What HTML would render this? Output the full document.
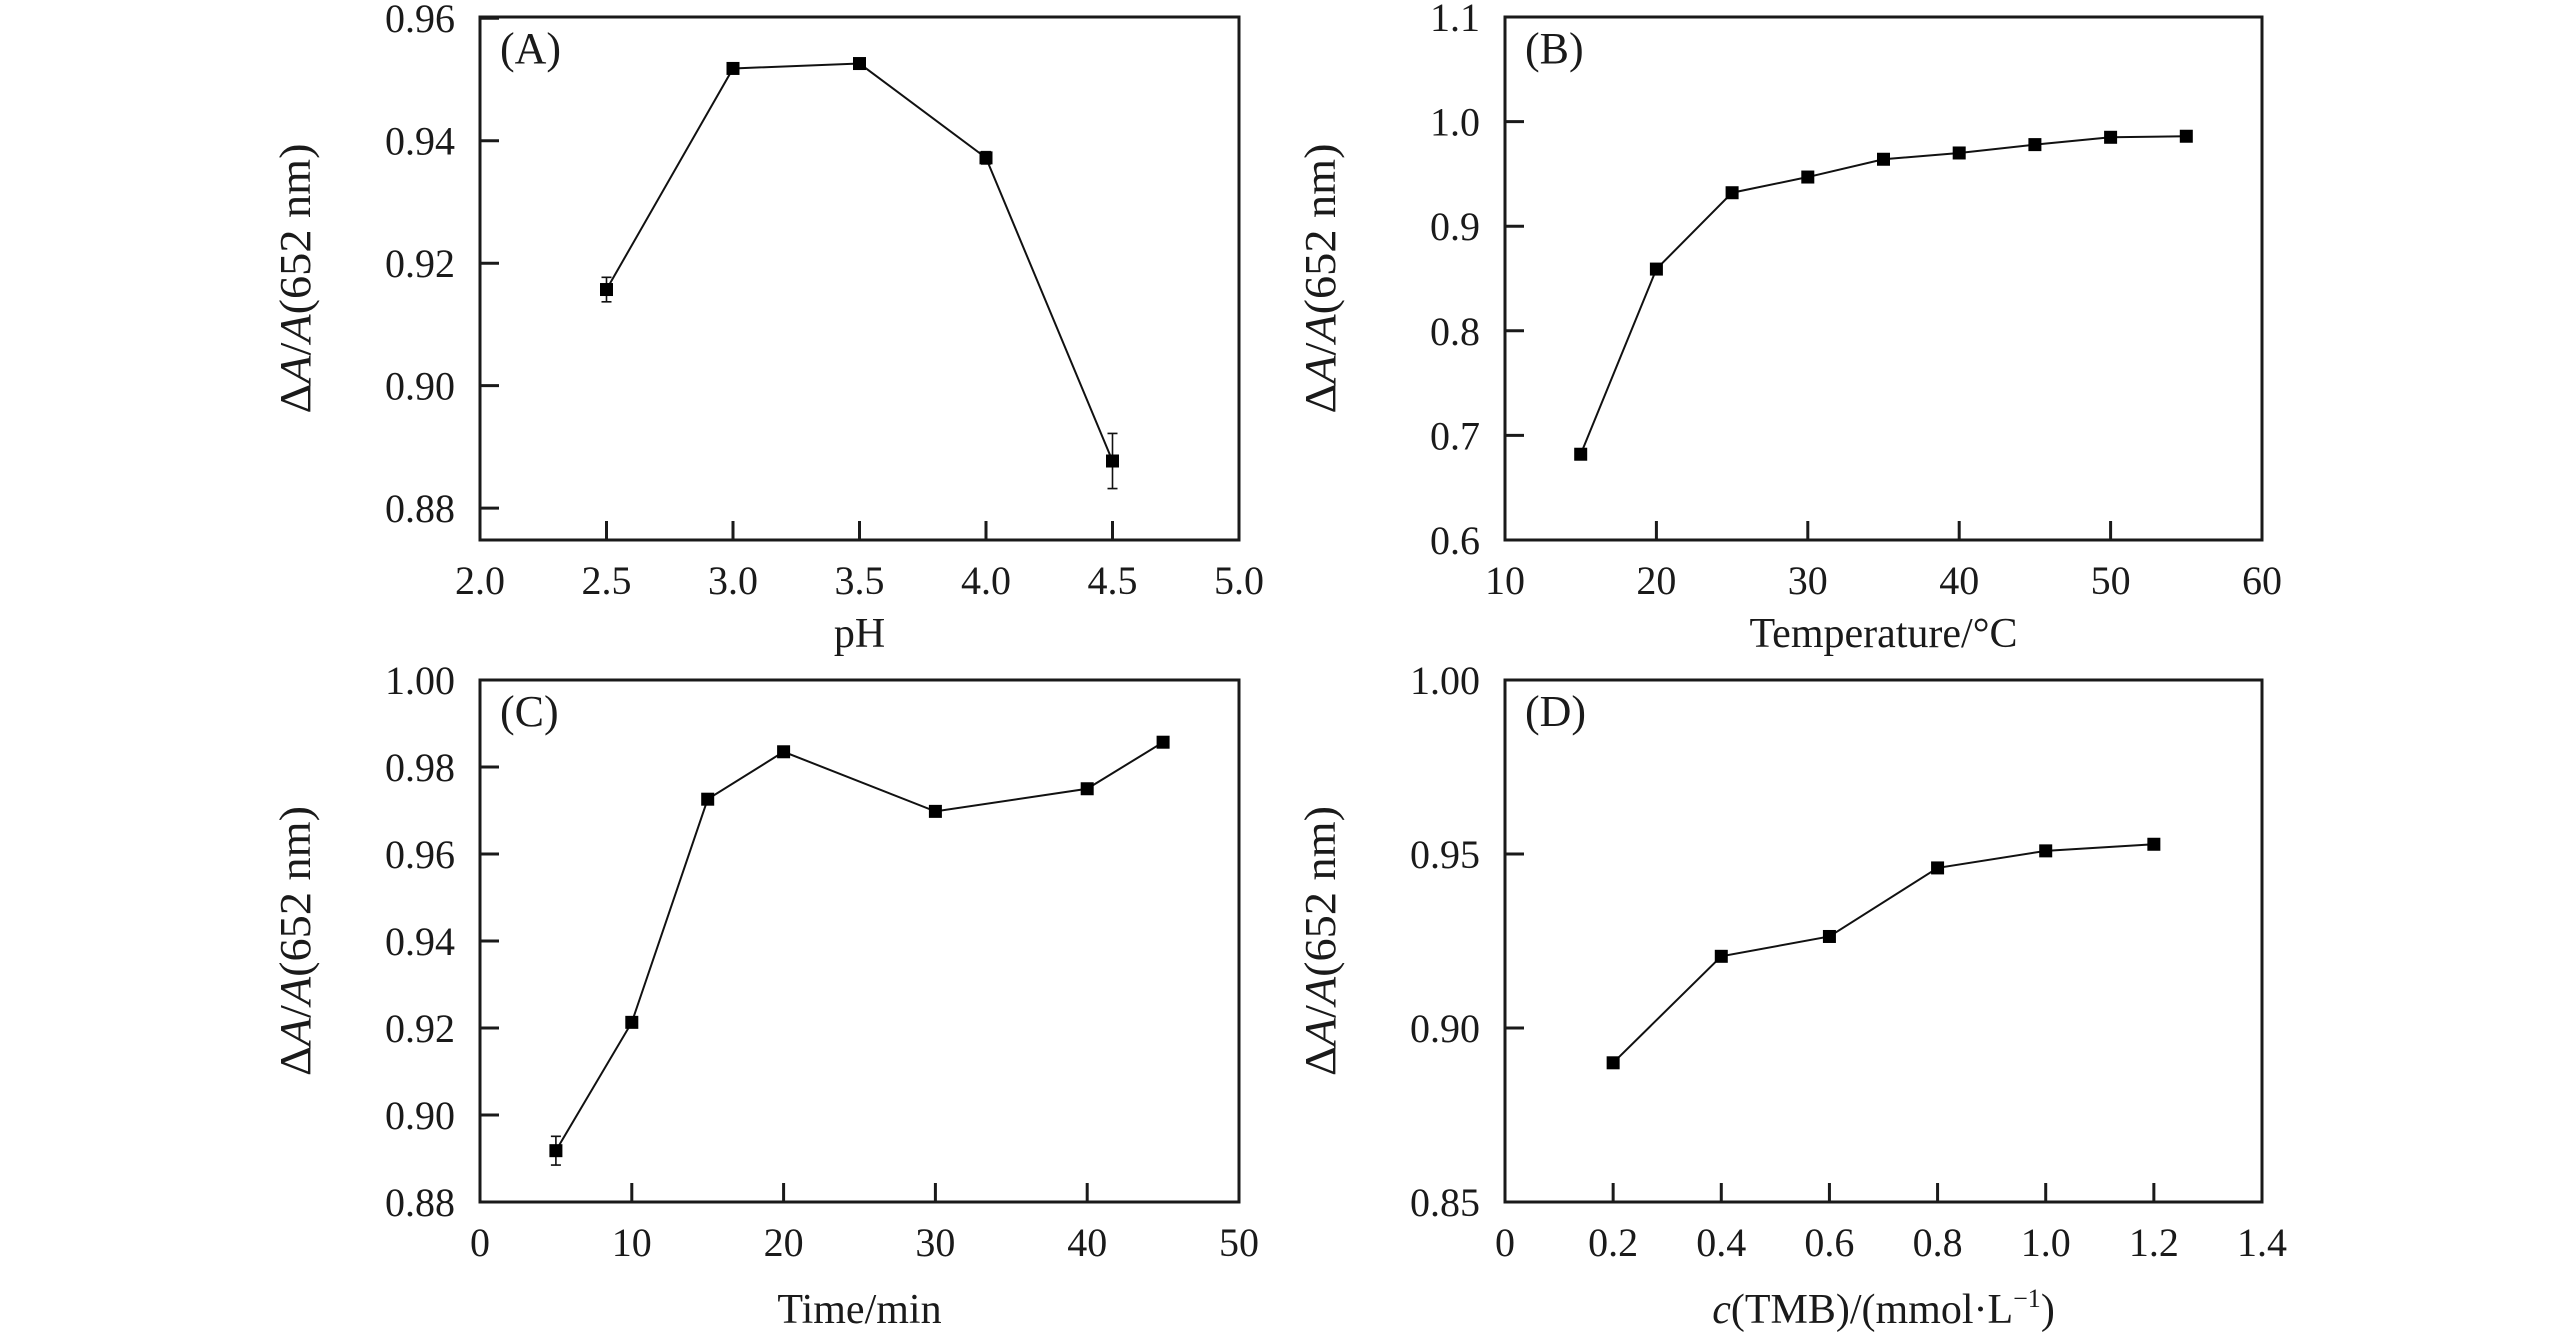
<!DOCTYPE html>
<html><head><meta charset="utf-8"><style>
html,body{margin:0;padding:0;background:#fff;overflow:hidden}
svg{display:block}
text{font-family:"Liberation Serif",serif;fill:#1a1a1a}
</style></head><body>
<svg id="fig" width="2567" height="1339" viewBox="0 0 2567 1339" xmlns="http://www.w3.org/2000/svg"></svg>
<script>
// Panel A
const phX = [2.5, 3.0, 3.5, 4.0, 4.5];
const phY = [0.9157, 0.9518, 0.9526, 0.9372, 0.8877];
const phErr = [0.002, 0.0005, 0.0005, 0.001, 0.0045];
const phXTicks = ["2.0","2.5","3.0","3.5","4.0","4.5","5.0"];
const phYTicks = ["0.88","0.90","0.92","0.94","0.96"];
// Panel B
const tempX = [15, 20, 25, 30, 35, 40, 45, 50, 55];
const tempY = [0.682, 0.859, 0.932, 0.947, 0.964, 0.970, 0.978, 0.985, 0.986];
const tempErr = [0, 0, 0, 0, 0, 0, 0.005, 0, 0];
const tempXTicks = ["10","20","30","40","50","60"];
const tempYTicks = ["0.6","0.7","0.8","0.9","1.0","1.1"];
// Panel C
const timeX = [5, 10, 15, 20, 30, 40, 45];
const timeY = [0.8918, 0.9213, 0.9726, 0.9835, 0.9698, 0.975, 0.9857];
const timeErr = [0.0033, 0.001, 0, 0, 0, 0, 0];
const timeXTicks = ["0","10","20","30","40","50"];
const timeYTicks = ["0.88","0.90","0.92","0.94","0.96","0.98","1.00"];
// Panel D
const tmbX = [0.2, 0.4, 0.6, 0.8, 1.0, 1.2];
const tmbY = [0.890, 0.9206, 0.9263, 0.946, 0.9509, 0.9528];
const tmbErr = [0, 0, 0, 0, 0, 0];
const tmbXTicks = ["0","0.2","0.4","0.6","0.8","1.0","1.2","1.4"];
const tmbYTicks = ["0.85","0.90","0.95","1.00"];

const NS = "http://www.w3.org/2000/svg";
const svg = document.getElementById("fig");
function mk(tag, attrs, parent){
  const e = document.createElementNS(NS, tag);
  for (const k in attrs) e.setAttribute(k, attrs[k]);
  (parent||svg).appendChild(e);
  return e;
}
function txt(parent, s, x, y, size, anchor){
  const t = mk("text", {x:x, y:y, "font-size":size, "text-anchor":anchor}, parent);
  t.textContent = s;
  return t;
}

function panel(p){
  const g = mk("g", {});
  
  
  const xs = v => p.L + (v - p.xmin) / (p.xmax - p.xmin) * (p.R - p.L);
  const ys = v => p.B - (v - p.ymin) / (p.ymax - p.ymin) * (p.B - p.T);
  p.xticks.forEach(s => {
    const v = parseFloat(s), x = xs(v);
    if (v > p.xmin + 1e-9 && v < p.xmax - 1e-9) {
      const tk = mk("line", {x1:x, x2:x, y1:p.B, y2:p.B-19, stroke:"#1a1a1a", "stroke-width":3}, g);
      
      
    }
    const t = txt(g, s, x, p.B + p.tickLabOff, 40, "middle");
    
    
  });
  p.yticks.forEach(s => {
    const v = parseFloat(s), y = ys(v);
    if (v > p.ymin + 1e-9 && v < p.ymax - 1e-9) {
      const tk = mk("line", {x1:p.L, x2:p.L+19, y1:y, y2:y, stroke:"#1a1a1a", "stroke-width":3}, g);
      
      
    }
    const t = txt(g, s, p.L - 25, y + 14, 40, "end");
    
    
  });
  const pts = p.x.map((v,i) => xs(v) + "," + ys(p.y[i])).join(" ");
  const pl = mk("polyline", {points:pts, fill:"none", stroke:"#111", "stroke-width":2}, g);
  
  
  p.x.forEach((v,i) => {
    const e = p.err[i];
    if (!e) return;
    const x = xs(v), y1 = ys(p.y[i]-e), y2 = ys(p.y[i]+e);
    const eb = mk("path", {d:`M${x},${y1}V${y2}M${x-5},${y1}H${x+5}M${x-5},${y2}H${x+5}`, stroke:"#111", "stroke-width":1.6, fill:"none"}, g);
    
    
  });
  p.x.forEach((v,i) => {
    const m = mk("rect", {x:xs(v)-6.5, y:ys(p.y[i])-6.5, width:13, height:13, fill:"#000"}, g);
    
    
  });
  const fr = mk("rect", {x:p.L, y:p.T, width:p.R-p.L, height:p.B-p.T, fill:"none", stroke:"#1a1a1a", "stroke-width":3}, g);
  
  
  const pl2 = txt(g, p.letter, p.L + 20, p.T + 46, 44, "start");
  
  
  const cy = (p.T + p.B) / 2, bx = p.L - 170;
  const yl = mk("text", {transform:`translate(${bx},${cy}) rotate(-90)`, "font-size":44, "text-anchor":"middle", textLength:270, lengthAdjust:"spacingAndGlyphs"}, g);
  
  
  yl.innerHTML = 'Δ<tspan font-style="italic">A</tspan>/<tspan font-style="italic">A</tspan>(652 nm)';
  const xl = mk("text", {x:(p.L+p.R)/2, y:p.B + p.xlabOff, "font-size":42, "text-anchor":"middle"}, g);
  
  
  xl.innerHTML = p.xlab;
}

panel({name:"panel-a-ph", letter:"(A)", L:480, R:1239, T:17, B:540, xmin:2.0, xmax:5.0, ymin:0.8748, ymax:0.9602,
  x:phX, y:phY, err:phErr, xticks:phXTicks, yticks:phYTicks, xlab:"pH", tickLabOff:54, xlabOff:107});
panel({name:"panel-b-temperature", letter:"(B)", L:1505, R:2262, T:17, B:540, xmin:10, xmax:60, ymin:0.6, ymax:1.1,
  x:tempX, y:tempY, err:tempErr, xticks:tempXTicks, yticks:tempYTicks, xlab:"Temperature/°C", tickLabOff:54, xlabOff:107});
panel({name:"panel-c-time", letter:"(C)", L:480, R:1239, T:680, B:1202, xmin:0, xmax:50, ymin:0.88, ymax:1.00,
  x:timeX, y:timeY, err:timeErr, xticks:timeXTicks, yticks:timeYTicks, xlab:"Time/min", tickLabOff:54, xlabOff:121});
panel({name:"panel-d-tmb", letter:"(D)", L:1505, R:2262, T:680, B:1202, xmin:0, xmax:1.4, ymin:0.85, ymax:1.00,
  x:tmbX, y:tmbY, err:tmbErr, xticks:tmbXTicks, yticks:tmbYTicks,
  xlab:'<tspan font-style="italic">c</tspan>(TMB)/(mmol·L<tspan font-size="26" dy="-16">−1</tspan><tspan dy="16">)</tspan>', tickLabOff:54, xlabOff:121});
</script>
</body></html>
